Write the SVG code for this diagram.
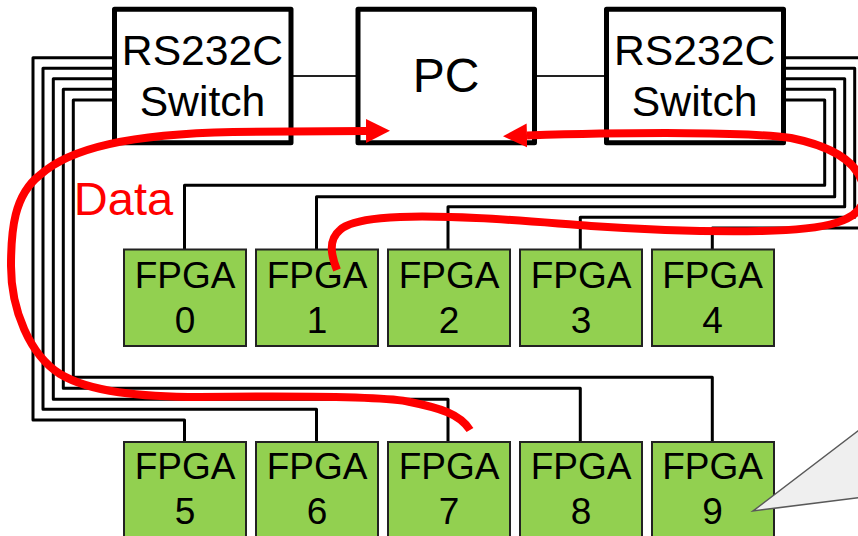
<svg xmlns="http://www.w3.org/2000/svg" width="858" height="536" viewBox="0 0 858 536">
<style>
text{font-family:"Liberation Sans",Arial,sans-serif;text-anchor:middle;fill:#000}
.box{fill:#fff;stroke:#000;stroke-width:5;stroke-linejoin:round}
.fpga{fill:#92d050;stroke:#222;stroke-width:2}
.wire{fill:none;stroke:#000;stroke-width:3;stroke-linejoin:round}
.link{fill:none;stroke:#222;stroke-width:2}
.red{fill:none;stroke:#f00;stroke-width:8;marker-end:url(#head)}
.sw{font-size:42.7px}
.fp{font-size:37px}
</style>
<defs>
<marker id="head" markerUnits="userSpaceOnUse" markerWidth="25" markerHeight="25" refX="0" refY="12" orient="auto" viewBox="0 0 25 24">
<path d="M0,0L24,12L0,24Z" fill="#f00"/>
</marker>
</defs>
<g id="connectors">
<path class="link" d="M293,76H356M537,76H604"/>
<path class="wire" d="M112,57.7H33V420H184.5V442"/>
<path class="wire" d="M112,68.3H43V409.3H316.5V442"/>
<path class="wire" d="M112,78.7H53.3V399.3H448V442"/>
<path class="wire" d="M112,89.3H63.3V388.3H580.3V442"/>
<path class="wire" d="M112,100H73.3V377.3H712.3V442"/>
<path class="wire" d="M786,100H824.7V185.3H184.5V249"/>
<path class="wire" d="M786,89.3H834.7V196.7H316.5V249"/>
<path class="wire" d="M786,78.7H844.7V206.7H448V249"/>
<path class="wire" d="M786,68.3H854.7V217.3H580.3V249"/>
<path class="wire" d="M786,57.7H860M860,228H712.3V249"/>
</g>
<g id="switch-left"><rect class="box" x="114.5" y="9.3" width="176.5" height="133.5"/><text class="sw" x="202.5" y="65">RS232C</text><text class="sw" x="202.5" y="115.7">Switch</text></g>
<g id="pc"><rect class="box" x="358" y="9.3" width="176.5" height="133.5"/><text x="446" y="92" font-size="48">PC</text></g>
<g id="switch-right"><rect class="box" x="606.5" y="9.3" width="177" height="133.5"/><text class="sw" x="694.7" y="65">RS232C</text><text class="sw" x="694.7" y="115.7">Switch</text></g>
<g id="fpga0"><rect class="fpga" x="124" y="249.5" width="122" height="96.5"/><text class="fp" x="185" y="287.7">FPGA</text><text class="fp" x="185" y="332.7">0</text></g>
<g id="fpga1"><rect class="fpga" x="256" y="249.5" width="122" height="96.5"/><text class="fp" x="317" y="287.7">FPGA</text><text class="fp" x="317" y="332.7">1</text></g>
<g id="fpga2"><rect class="fpga" x="388" y="249.5" width="122" height="96.5"/><text class="fp" x="449" y="287.7">FPGA</text><text class="fp" x="449" y="332.7">2</text></g>
<g id="fpga3"><rect class="fpga" x="520" y="249.5" width="122" height="96.5"/><text class="fp" x="581" y="287.7">FPGA</text><text class="fp" x="581" y="332.7">3</text></g>
<g id="fpga4"><rect class="fpga" x="652" y="249.5" width="122" height="96.5"/><text class="fp" x="712.5" y="287.7">FPGA</text><text class="fp" x="712.5" y="332.7">4</text></g>
<g id="fpga5"><rect class="fpga" x="124" y="442" width="122" height="97"/><text class="fp" x="185" y="479.3">FPGA</text><text class="fp" x="185" y="524.3">5</text></g>
<g id="fpga6"><rect class="fpga" x="256" y="442" width="122" height="97"/><text class="fp" x="317" y="479.3">FPGA</text><text class="fp" x="317" y="524.3">6</text></g>
<g id="fpga7"><rect class="fpga" x="388" y="442" width="122" height="97"/><text class="fp" x="449" y="479.3">FPGA</text><text class="fp" x="449" y="524.3">7</text></g>
<g id="fpga8"><rect class="fpga" x="520" y="442" width="122" height="97"/><text class="fp" x="581" y="479.3">FPGA</text><text class="fp" x="581" y="524.3">8</text></g>
<g id="fpga9"><rect class="fpga" x="652" y="442" width="122" height="97"/><text class="fp" x="712.5" y="479.3">FPGA</text><text class="fp" x="712.5" y="524.3">9</text></g>
<g id="data-flow">
<path class="red" d="M470,430C460,414 440,408 410,402C385,396 290,396 200,397C140,397 90,392 60,374C30,355 11,310 11,266C11,230 14,195 40,175C70,148 130,134 233,132L366,131"/>
<path class="red" d="M337,270C331,255 328,240 340,230C352,218 400,215 450,217C500,218 560,224 591,226C650,230 700,232 760,231C825,230 864,222 864,195C864,165 835,147 791,138C750,132 640,132 527,135.5"/>
<text x="123.5" y="215" font-size="47" style="fill:#f00">Data</text>
</g>
<g id="callout"><path d="M860,429.3L753,511L860,497.5" fill="#efefef" stroke="#595959" stroke-width="1.5"/></g>
</svg>
